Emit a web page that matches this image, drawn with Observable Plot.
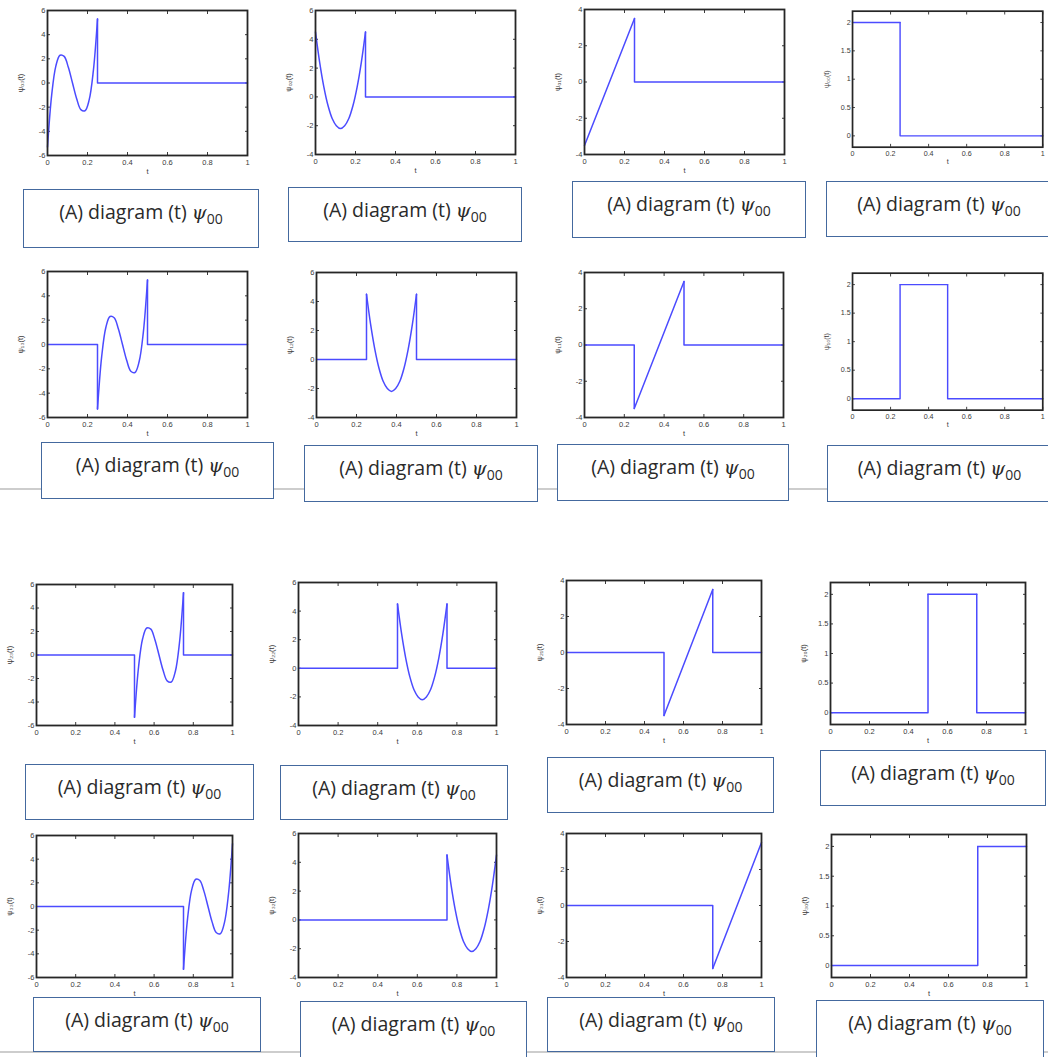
<!DOCTYPE html>
<html><head><meta charset="utf-8">
<script src="https://cdn.jsdelivr.net/npm/d3@7"></script>
<script src="https://cdn.jsdelivr.net/npm/@observablehq/plot@0.6"></script>
<style>
html,body{margin:0;padding:0;background:#fff;}
#page{position:relative;width:1048px;height:1057px;overflow:hidden;background:#fff;}
.panel{position:absolute;}
.panel svg{overflow:visible;}
.cap{position:absolute;box-sizing:border-box;border:1.5px solid #44699e;background:#fff;
  font-family:"Open Sans",Lato,sans-serif;font-size:19.5px;color:#2a2a2a;text-align:center;
  padding-top:10px;line-height:24px;white-space:nowrap;}
.cap i{font-family:"DejaVu Serif",serif;font-size:19px;}
.cap sub{font-size:14px;vertical-align:-5px;line-height:0;}
.rule{position:absolute;left:0;width:1048px;height:2px;background:#cdcdcd;}
</style></head><body><div id="page"></div>
<script>
// ---- data ----
const tTicks = [0, 0.2, 0.4, 0.6, 0.8, 1];
// support of psi_nm for row n = 0..3
const supports = [[0, 0.25], [0.25, 0.5], [0.5, 0.75], [0.75, 1]];
// values read at evenly spaced points across the support
const cubicShape = [-5.3, -1.0, 1.4, 2.3, 2.2, 1.3, 0, -1.3, -2.2, -2.3, -1.4, 1.0, 5.3];
const quadShape = [4.5, 2.4, 0.7, -0.6, -1.5, -2.0, -2.2, -2.0, -1.5, -0.6, 0.7, 2.4, 4.5];
const linShape = [-3.5, 3.5];
const constShape = [2, 2];
const cubicTicks = [-6, -4, -2, 0, 2, 4, 6];
const quadTicks = [-4, -2, 0, 2, 4, 6];
const linTicks = [-4, -2, 0, 2, 4];
const constTicks = [0, 0.5, 1, 1.5, 2];
const mIndex = ["3", "2", "1", "0"]; // column -> m
const subDigits = ["₀", "₁", "₂", "₃"];
const captionText = "(A) diagram (t) ";
const captionSub = "00";

const kinds = [
  {shape: cubicShape, ticks: cubicTicks, domain: [-6, 6], curve: "catmull-rom"},
  {shape: quadShape, ticks: quadTicks, domain: [-4, 6], curve: "catmull-rom"},
  {shape: linShape, ticks: linTicks, domain: [-4, 4], curve: "linear"},
  {shape: constShape, ticks: constTicks, domain: [-0.2, 2.2], curve: "linear"}
];

// ---- layout (pixels on the page) ----
const plotRects = [
  [[47,10,247,155],[315,10,515,154],[584,9,784,154],[854,11,1054,154]],
  [[47,271,247,417],[316,272,516,417],[584,272,783,417],[854,273,1054,417]],
  [[36,584,232,725],[298,582,496,725],[566,580,761,724],[830,582,1025,724]],
  [[36,835,232,977],[298,833,496,977],[566,833,761,977],[831,834,1026,977]]
];
const capRects = [
  [[23,189,259,248],[288,187,522,242],[572,181,806,238],[826,181,1052,237]],
  [[41,442,274,499],[304,445,538,502],[557,444,789,501],[827,445,1052,502]],
  [[25,764,254,820],[280,765,508,820],[547,757,774,813],[820,750,1046,806]],
  [[33,997,261,1052],[300,1001,527,1058],[547,997,775,1052],[816,1000,1044,1058]]
];
const mL = 40, mR = 6, mT = 6, mB = 26;
const page = document.getElementById("page");

for (const y of [488, 1051]) {
  const r = document.createElement("div");
  r.className = "rule"; r.style.top = y + "px";
  page.appendChild(r);
}

const fmt = d => String(d);
const blank = () => "";

for (let row = 0; row < 4; row++) {
  for (let col = 0; col < 4; col++) {
    const [L, T, R, B] = plotRects[row][col];
    const kind = kinds[col];
    const [a, b] = supports[row];
    const shape = kind.shape;
    const edge = [], body = [];
    if (a > 0) edge.push({t: 0, y: 0, p: "L"}, {t: a, y: 0, p: "L"}, {t: a, y: shape[0], p: "L"});
    shape.forEach((y, i) => body.push({t: a + (b - a) * i / (shape.length - 1), y}));
    if (b < 1) edge.push({t: b, y: shape[shape.length - 1], p: "R"}, {t: b, y: 0, p: "R"}, {t: 1, y: 0, p: "R"});
    const ylabel = "ψ" + subDigits[row] + subDigits[+mIndex[col]] + "(t)";
    const lineStyle = {stroke: "#4b4bff", strokeWidth: 1.5, strokeLinejoin: "round", strokeLinecap: "round"};
    const chart = Plot.plot({
      width: (R - L) + mL + mR,
      height: (B - T) + mT + mB,
      marginLeft: mL, marginRight: mR, marginTop: mT, marginBottom: mB,
      x: {domain: [0, 1]},
      y: {domain: kind.domain},
      style: {fontFamily: "'Liberation Sans', Arial, sans-serif", fontSize: "7.5px", color: "#3a3a3a", background: "transparent"},
      marks: [
        Plot.axisX(tTicks, {anchor: "bottom", tickSize: -3, tickPadding: 7, tickFormat: fmt, label: null}),
        Plot.axisX(tTicks, {anchor: "top", tickSize: -3, tickFormat: blank, label: null}),
        Plot.axisY(kind.ticks, {anchor: "left", tickSize: -3, tickPadding: 5, tickFormat: fmt, label: null}),
        Plot.axisY(kind.ticks, {anchor: "right", tickSize: -3, tickFormat: blank, label: null}),
        Plot.line(edge, {x: "t", y: "y", z: "p", curve: "linear", ...lineStyle}),
        Plot.line(body, {x: "t", y: "y", curve: kind.curve, ...lineStyle}),
        Plot.frame({stroke: "#262626", strokeWidth: 1.8}),
        Plot.text(["t"], {frameAnchor: "bottom", dy: 18, fontSize: 7.5, fill: "#3a3a3a"}),
        Plot.text([ylabel], {frameAnchor: "left", textAnchor: "middle", rotate: -90, dx: -27, fontSize: 7.5, fill: "#3a3a3a"})
      ]
    });
    const wrap = document.createElement("div");
    wrap.className = "panel";
    wrap.style.left = (L - mL) + "px";
    wrap.style.top = (T - mT) + "px";
    wrap.appendChild(chart);
    page.appendChild(wrap);

    const [cl, ct, cr, cb] = capRects[row][col];
    const cap = document.createElement("div");
    cap.className = "cap";
    cap.style.left = cl + "px"; cap.style.top = ct + "px";
    cap.style.width = (cr - cl) + "px"; cap.style.height = (cb - ct) + "px";
    cap.innerHTML = captionText + "<i>ψ</i><sub>" + captionSub + "</sub>";
    page.appendChild(cap);
  }
}
</script>
</body></html>
